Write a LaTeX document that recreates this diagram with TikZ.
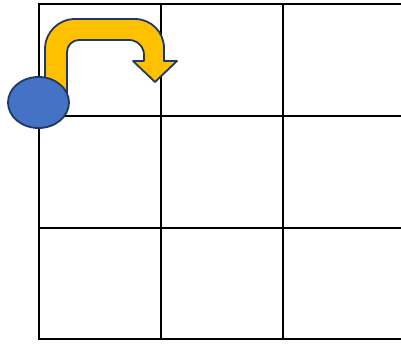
\documentclass[tikz,border=0pt]{standalone}
\usetikzlibrary{shapes.geometric}
\definecolor{arrowyellow}{HTML}{FFC000}
\definecolor{navy}{HTML}{1F3864}
\definecolor{ballblue}{HTML}{4472C4}
\tikzset{
  gridline/.style={black, line width=1.8pt},
  uarrow/.style={fill=arrowyellow, draw=navy, line width=1.8pt, line join=round},
  ball/.style={ellipse, fill=ballblue, draw=navy, line width=1.8pt, minimum width=61pt, minimum height=51pt, inner sep=0pt}
}
\begin{document}
\begin{tikzpicture}[x=1pt,y=-1pt]
\useasboundingbox (0,0) rectangle (401,343);
% grid
\foreach \gx in {39,161,283} \draw[gridline] (\gx,4) -- (\gx,339);
\foreach \gy in {4,116,228,339} \draw[gridline] (38.1,\gy) -- (402,\gy);
% U-turn arrow
\draw[uarrow] (45,95) -- (45,49) .. controls (45,32.4) and (58.4,19) .. (75,19)
  -- (135,19) .. controls (151,19) and (164,32) .. (164,48)
  -- (164,61) -- (177,61) -- (155,82) -- (133,61) -- (144,61)
  -- (144,55) .. controls (144,46.7) and (137.3,40) .. (129,40)
  -- (79,40) .. controls (72.4,40) and (67,45.4) .. (67,52)
  -- (67,95) -- cycle;
% ball
\node[ball] (b) at (38.5,102.5) {};
\end{tikzpicture}
\end{document}
